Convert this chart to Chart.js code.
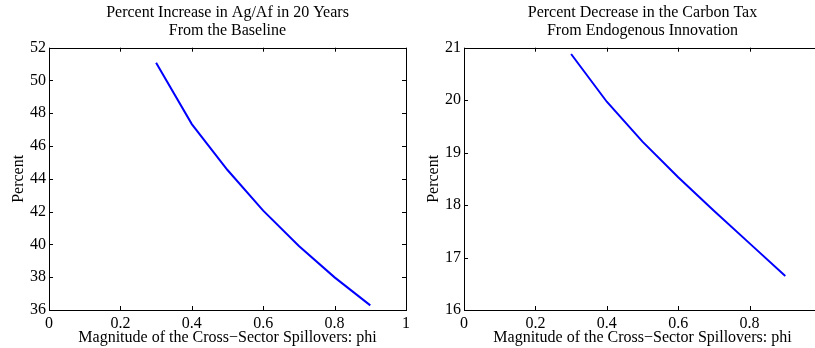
<!DOCTYPE html>
<html>
<head>
<meta charset="utf-8">
<script src="https://cdn.jsdelivr.net/npm/chart.js@4.4.0/dist/chart.umd.min.js"></script>
<style>
    body { margin: 0; background: #fff; overflow: hidden; }
    #wrap { position: relative; width: 815px; height: 348px; overflow: hidden; }
    #leftBox { position: absolute; left: 0; top: 0; }
    #rightBox { position: absolute; left: 415px; top: 0; }
</style>
</head>
<body>
<div id="wrap">
    <div id="leftBox"><canvas id="agafChart" width="420" height="348"></canvas></div>
    <div id="rightBox"><canvas id="taxChart" width="420" height="348"></canvas></div>
</div>
<script>
// data
var phi = [0.3, 0.4, 0.5, 0.6, 0.7, 0.8, 0.9];
var agafIncrease = [51.08, 47.34, 44.54, 42.06, 39.9, 37.99, 36.28];
var taxDecrease = [20.88, 19.97, 19.21, 18.53, 17.89, 17.27, 16.65];
var xTicks = [0, 0.2, 0.4, 0.6, 0.8, 1];
var agafTicks = [36, 38, 40, 42, 44, 46, 48, 50, 52];
var taxTicks = [16, 17, 18, 19, 20, 21];

var serif = "'Liberation Serif', 'Times New Roman', serif";
Chart.defaults.font.family = serif;
Chart.defaults.color = "#000";

// matlab style frame with ticks pointing inward
var frameTicks = {
    id: "frameTicks",
    afterDraw: function (chart) {
        var ctx = chart.ctx;
        var a = chart.chartArea;
        var len = 4;
        ctx.save();
        ctx.strokeStyle = "#000";
        ctx.lineWidth = 1;
        ctx.beginPath();
        chart.scales.x.ticks.forEach(function (t) {
            var px = Math.round(chart.scales.x.getPixelForValue(t.value)) + 0.5;
            ctx.moveTo(px, a.bottom);
            ctx.lineTo(px, a.bottom - len);
            ctx.moveTo(px, a.top);
            ctx.lineTo(px, a.top + len);
        });
        chart.scales.y.ticks.forEach(function (t) {
            var py = Math.round(chart.scales.y.getPixelForValue(t.value)) + 0.5;
            ctx.moveTo(a.left, py);
            ctx.lineTo(a.left + len, py);
            ctx.moveTo(a.right, py);
            ctx.lineTo(a.right - len, py);
        });
        ctx.stroke();
        ctx.strokeRect(Math.round(a.left) + 0.5, Math.round(a.top) + 0.5,
            Math.round(a.right - a.left), Math.round(a.bottom - a.top));
        ctx.restore();
    },
};

function plainLabel(v) {
    return String(Math.round(v * 10) / 10);
}

function makePanel(canvasId, titleLines, values, yTicks) {
    var ctx = document.getElementById(canvasId).getContext("2d");
    return new Chart(ctx, {
        type: "line",
        data: {
            datasets: [
                {
                    data: phi.map(function (p, i) { return { x: p, y: values[i] }; }),
                    borderColor: "#0000ff",
                    borderWidth: 2,
                    pointRadius: 0,
                    tension: 0,
                    fill: false,
                },
            ],
        },
        options: {
            responsive: false,
            animation: false,
            layout: { padding: { left: 0, right: 14, top: 0, bottom: 0 } },
            plugins: {
                legend: { display: false },
                tooltip: { enabled: false },
                title: {
                    display: true,
                    fullSize: false,
                    text: titleLines,
                    color: "#000",
                    font: { size: 16, weight: "normal", lineHeight: 1.1 },
                    padding: { top: 4, bottom: 8.5 },
                },
            },
            scales: {
                x: {
                    type: "linear",
                    min: 0,
                    max: 1,
                    grid: { display: false, drawTicks: false },
                    border: { display: false },
                    afterBuildTicks: function (s) {
                        s.ticks = xTicks.map(function (v) { return { value: v }; });
                    },
                    ticks: { font: { size: 16 }, padding: 4, maxRotation: 0, autoSkip: false, callback: plainLabel },
                    title: {
                        display: true,
                        text: "Magnitude of the Cross\u2212Sector Spillovers: phi",
                        font: { size: 16, lineHeight: 1.1 },
                        padding: { top: 0, bottom: 1 },
                    },
                    afterFit: function (s) { s.height = 38; },
                },
                y: {
                    min: yTicks[0],
                    max: yTicks[yTicks.length - 1],
                    grid: { display: false, drawTicks: false },
                    border: { display: false },
                    afterBuildTicks: function (s) {
                        s.ticks = yTicks.map(function (v) { return { value: v }; });
                    },
                    ticks: { font: { size: 16 }, padding: 3, autoSkip: false, callback: plainLabel },
                    title: {
                        display: true,
                        text: "Percent",
                        font: { size: 16, lineHeight: 1.1 },
                        padding: { top: 10, bottom: 0 },
                    },
                    afterFit: function (s) { s.width = 49; },
                },
            },
        },
        plugins: [frameTicks],
    });
}

makePanel("agafChart", ["Percent Increase in Ag/Af in 20 Years", "From the Baseline"], agafIncrease, agafTicks);
makePanel("taxChart", ["Percent Decrease in the Carbon Tax", "From Endogenous Innovation"], taxDecrease, taxTicks);
</script>
</body>
</html>
